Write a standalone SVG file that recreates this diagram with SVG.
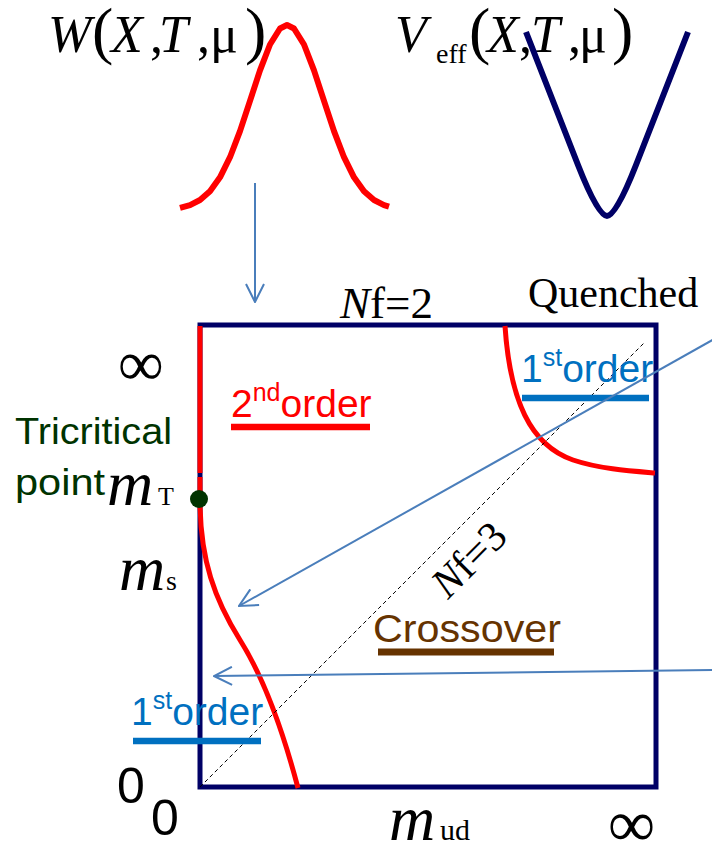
<svg xmlns="http://www.w3.org/2000/svg" width="712" height="850" viewBox="0 0 712 850">
<defs>
<style>
.serif{font-family:"Liberation Serif","Times New Roman",serif;fill:#000}
.it{font-style:italic}
.sans{font-family:"Liberation Sans",Arial,sans-serif}
.red{stroke:#ff0000;stroke-width:5;fill:none;stroke-linecap:butt;stroke-linejoin:round}
.conn{stroke:#4a7ebb;stroke-width:2;fill:none;marker-end:url(#ah)}
.bar{stroke-width:6.5}
</style>
<marker id="ah" markerUnits="userSpaceOnUse" viewBox="0 0 20 20" markerWidth="20" markerHeight="20" refX="19" refY="10" orient="auto">
<path d="M1,1 L19,10 L1,19" fill="none" stroke="#4a7ebb" stroke-width="2"/>
</marker>
</defs>
<rect width="712" height="850" fill="#fff"/>

<g id="formula-W">
<text class="serif" y="52" font-size="52"><tspan class="it" x="48">W</tspan><tspan x="92" font-size="64">(</tspan><tspan class="it" x="111">X</tspan><tspan x="150">,</tspan><tspan class="it" x="159">T</tspan><tspan x="197">,</tspan><tspan x="210">μ</tspan><tspan x="245" font-size="64">)</tspan></text>
<polyline class="red" style="stroke-width:6" points="180,207.8 190,205.1 200,200 210,191.2 220,177.3 230,157.2 240,131.1 250,100.9 260,70.4 270,44.5 280,28.5 287,25 294,28.5 304,44.5 314,70.4 324,100.9 334,131.1 344,157.2 354,177.3 364,191.2 374,200 384,205.1 389,206.7"/>
</g>

<g id="formula-Veff">
<text class="serif" y="52" font-size="52"><tspan class="it" x="395">V</tspan><tspan x="436" y="63" font-size="28">eff</tspan><tspan x="469" y="52" font-size="64">(</tspan><tspan class="it" x="487">X</tspan><tspan x="519">,</tspan><tspan class="it" x="531">T</tspan><tspan x="568">,</tspan><tspan x="579">μ</tspan><tspan x="612" font-size="64">)</tspan></text>
<path d="M526,32 L578,165 Q598,216 607,216 Q616,216 636,165 L688,32" fill="none" stroke="#000066" stroke-width="6" stroke-linejoin="round"/>
</g>

<g id="phase-box">
<rect x="200" y="325" width="456" height="462" fill="none" stroke="#000066" stroke-width="5"/>
</g>

<g id="curves">
<line class="red" x1="200" y1="326" x2="200" y2="473"/>
<path class="red" d="M200,477 L200,500 C200,560 215,600 240,640 C262,675 280,720 298,788"/>
<path class="red" d="M505,326 C510,400 530,445 573,460 C600,469 630,471 655,473"/>
<line x1="200" y1="787" x2="645" y2="342" stroke="#000" stroke-width="1" stroke-dasharray="4,3"/>
</g>

<g id="tricritical-point">
<circle cx="199" cy="499" r="9" fill="#003300"/>
<text class="sans" font-size="37" fill="#003300"><tspan x="15" y="444" textLength="157" lengthAdjust="spacingAndGlyphs">Tricritical</tspan><tspan x="15" y="495" textLength="90" lengthAdjust="spacingAndGlyphs">point</tspan></text>
</g>

<g id="axis-labels">
<text class="serif" x="340" y="318" font-size="45"><tspan class="it">N</tspan>f=2</text>
<text class="serif" x="528" y="307" font-size="42">Quenched</text>
<text class="serif" x="118" y="385" font-size="64">∞</text>
<text class="serif" y="505"><tspan class="it" x="107" font-size="64">m</tspan><tspan x="158" font-size="26">T</tspan></text>
<text class="serif" y="590"><tspan class="it" x="119" font-size="64">m</tspan><tspan x="166" font-size="28">s</tspan></text>
<text class="serif" y="840"><tspan class="it" x="389" font-size="64">m</tspan><tspan x="440" font-size="30">ud</tspan></text>
<text class="serif" x="608" y="846" font-size="66">∞</text>
<text class="sans" x="117" y="803" font-size="50">0</text>
<text class="sans" x="151" y="835" font-size="50">0</text>
<text class="serif" font-size="42" transform="translate(448,600) rotate(-45)"><tspan class="it">N</tspan>f=3</text>
</g>

<g id="label-2nd-order">
<text class="sans" y="417" font-size="39" fill="#ff0000"><tspan x="231">2</tspan><tspan font-size="25" dy="-16">nd</tspan><tspan dy="16">order</tspan></text>
<line class="red bar" x1="231" y1="427" x2="370" y2="427"/>
</g>

<g id="label-1st-order-top">
<text class="sans" y="382" font-size="39" fill="#0070c0"><tspan x="521">1</tspan><tspan font-size="25" dy="-16">st</tspan><tspan dy="16">order</tspan></text>
<line x1="522" y1="398" x2="649" y2="398" stroke="#0070c0" stroke-width="6.5"/>
</g>

<g id="label-crossover">
<text class="sans" x="373" y="642" font-size="38" fill="#663300" textLength="188" lengthAdjust="spacingAndGlyphs">Crossover</text>
<line x1="378" y1="652" x2="554" y2="652" stroke="#663300" stroke-width="7"/>
</g>

<g id="label-1st-order-bottom">
<text class="sans" y="725" font-size="39" fill="#0070c0"><tspan x="131">1</tspan><tspan font-size="25" dy="-16">st</tspan><tspan dy="16">order</tspan></text>
<line x1="133" y1="741" x2="261" y2="741" stroke="#0070c0" stroke-width="6.5"/>
</g>

<g id="connectors">
<line class="conn" x1="255" y1="183" x2="255" y2="302"/>
<line class="conn" x1="716" y1="338" x2="239" y2="606"/>
<line class="conn" x1="716" y1="670" x2="214" y2="676"/>
</g>
</svg>
